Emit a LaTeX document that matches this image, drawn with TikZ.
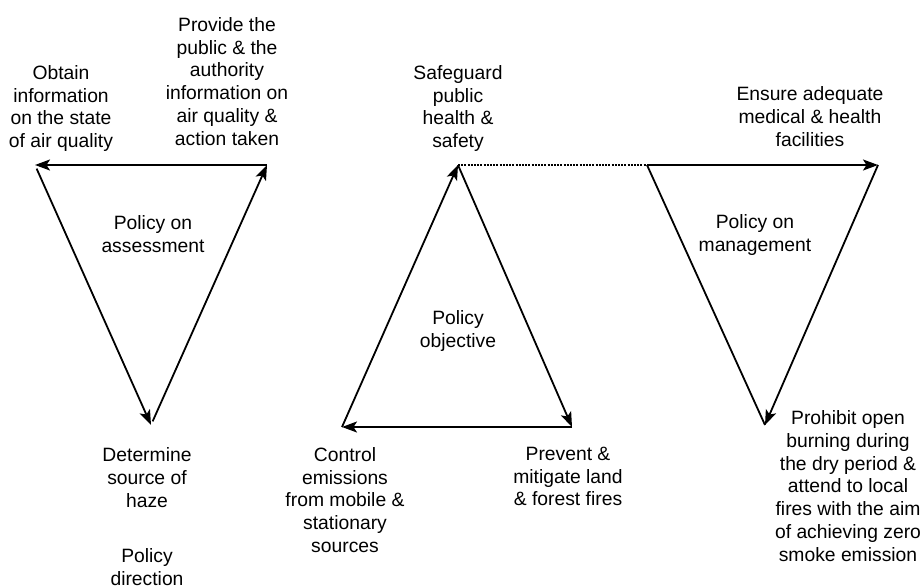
\documentclass[tikz,border=0pt]{standalone}
\usepackage{fontspec}
\setmainfont{Liberation Sans}
\usepackage{tikz}
\usetikzlibrary{arrows.meta}
\tikzset{
  ar/.style={-{Stealth[length=15pt,width=11pt,inset=3.5pt]},line width=1.8pt},
  ln/.style={line width=1.8pt},
  dot/.style={line width=2.4pt,dash pattern=on 2pt off 1.2pt},
  lbl/.style={align=center,inner sep=0pt,font=\fontsize{19.3}{22.8}\selectfont}
}
\begin{document}
\begin{tikzpicture}[x=1pt,y=-1pt]
\useasboundingbox (0,0) rectangle (920,586);
% vertices of the three triangles
\coordinate (a1) at (35,165);
\coordinate (a2) at (267,165);
\coordinate (a3) at (151,425);
\coordinate (b1) at (458,165);
\coordinate (b2) at (342,427);
\coordinate (b3) at (572,427);
\coordinate (c1) at (647,165);
\coordinate (c2) at (878,165);
\coordinate (c3) at (765,425);
% assessment
\draw[ar] (a2) -- (a1);
\draw[ar,shorten <=4pt] (a1) -- (a3);
\draw[ar,shorten <=4pt] (a3) -- (a2);
% objective
\draw[ar] (b2) -- (b1);
\draw[ar] (b1) -- (b3);
\draw[ar] (b3) -- (b2);
% management
\draw[ar] (c1) -- (c2);
\draw[ar] (c2) -- (c3);
\draw[ln] (c3) -- (c1);
\draw[dot] (b1) -- (c1);
% labels
\node[lbl] (obtain) at (61,108.5) {Obtain\\information\\on the state\\of air quality};
\node[lbl] (provide) at (227,81.5) {Provide the\\public \& the\\authority\\information on\\air quality \&\\action taken};
\node[lbl] (safeguard) at (458,108.5) {Safeguard\\public\\health \&\\safety};
\node[lbl] (ensure) at (810,116.5) {Ensure adequate\\medical \& health\\facilities};
\node[lbl] (assess) at (153,234) {Policy on\\assessment};
\node[lbl] (objective) at (458,331) {Policy\\objective};
\node[lbl] (manage) at (755,235) {Policy on\\management};
\node[lbl] (determine) at (147,477.5) {Determine\\source of\\haze};
\node[lbl] (direction) at (147,567) {Policy\\direction};
\node[lbl] (control) at (345,500) {Control\\emissions\\from mobile \&\\stationary\\sources};
\node[lbl] (prevent) at (568,476.5) {Prevent \&\\mitigate land\\\& forest fires};
\node[lbl] (prohibit) at (848,486) {Prohibit open\\burning during\\the dry period \&\\attend to local\\fires with the aim\\of achieving zero\\smoke emission};
\end{tikzpicture}
\end{document}
